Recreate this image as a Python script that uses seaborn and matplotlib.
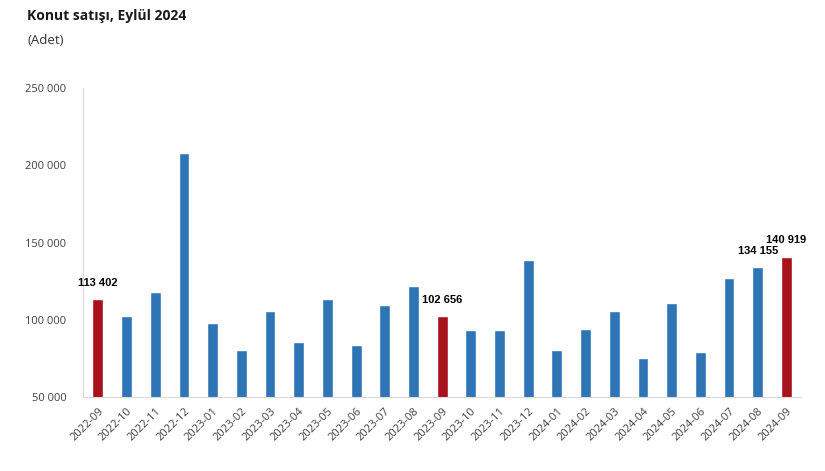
import matplotlib
matplotlib.use("Agg")
import matplotlib.pyplot as plt
import seaborn as sns
import pandas as pd

months = ["2022-09", "2022-10", "2022-11", "2022-12", "2023-01", "2023-02", "2023-03",
          "2023-04", "2023-05", "2023-06", "2023-07", "2023-08", "2023-09", "2023-10",
          "2023-11", "2023-12", "2024-01", "2024-02", "2024-03", "2024-04", "2024-05",
          "2024-06", "2024-07", "2024-08", "2024-09"]
sales = [113402, 102594, 118004, 208083, 97979, 80141, 105476, 85651, 113276, 83799,
         109565, 122054, 102656, 93616, 93370, 138509, 80383, 93918, 105394, 75569,
         110588, 79313, 127019, 134155, 140919]
highlight = ["2022-09", "2023-09", "2024-09"]
labelled = ["2022-09", "2023-09", "2024-08", "2024-09"]
yticks = [50000, 100000, 150000, 200000, 250000]

df = pd.DataFrame({"month": months, "sales": sales})
df["grp"] = ["hl" if m in highlight else "std" for m in months]

sns.set_style("white")
fig = plt.figure(figsize=(8.25, 4.71), dpi=100)
ax = fig.add_axes([0.1006, 0.157, 0.87, 0.656])

sns.barplot(data=df, x="month", y="sales", hue="grp",
            palette={"hl": "#A8121C", "std": "#2E75B6"},
            width=0.38, dodge=False, legend=False, ax=ax,
            saturation=1)

ax.set_ylim(50000, 250000)
ax.set_xlim(-0.52, len(months) - 0.5)
ax.set_yticks(yticks)
ax.set_yticklabels([f"{v:,}".replace(",", " ") for v in yticks],
                   fontsize=8, color="#404040", family="Open Sans")
ax.set_xticks(range(len(months)))
ax.set_xticklabels(months, rotation=45, ha="right", rotation_mode="anchor",
                   fontsize=8, color="#404040", family="Open Sans")
ax.tick_params(axis="both", length=0, pad=6)
ax.tick_params(axis="y", pad=12)
ax.set_xlabel("")
ax.set_ylabel("")
for s in ["top", "right"]:
    ax.spines[s].set_visible(False)
ax.spines["left"].set_color("#D9D9D9")
ax.spines["bottom"].set_color("#D9D9D9")
ax.spines["left"].set_linewidth(0.8)
ax.spines["bottom"].set_linewidth(0.8)

for i, (m, v) in enumerate(zip(months, sales)):
    if m in labelled:
        ax.annotate(f"{v:,}".replace(",", " "), (i, v), xytext=(0, 8),
                    textcoords="offset points", ha="center", va="bottom",
                    fontsize=8, fontweight="bold", family="Liberation Sans",
                    color="#000000")

fig.text(27 / 825, 1 - 16 / 471, "Konut satışı, Eylül 2024", fontsize=10,
         fontweight="bold", family="Open Sans", va="center", color="#1a1a1a")
fig.text(27 / 825, 1 - 40 / 471, "(Adet)", fontsize=9.5, family="Open Sans",
         va="center", color="#333333")

fig.savefig("out.png", dpi=100)
